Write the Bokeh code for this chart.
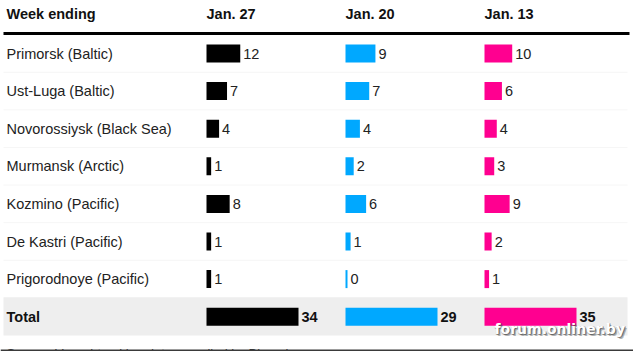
from bokeh.plotting import figure
from bokeh.models import Range1d
from bokeh.embed import file_html
from bokeh.resources import INLINE
from bokeh.core.properties import value

# ---- data ----
ports = ["Primorsk (Baltic)", "Ust-Luga (Baltic)", "Novorossiysk (Black Sea)",
         "Murmansk (Arctic)", "Kozmino (Pacific)", "De Kastri (Pacific)",
         "Prigorodnoye (Pacific)"]
weeks = ["Jan. 27", "Jan. 20", "Jan. 13"]
jan27 = [12, 7, 4, 1, 8, 1, 1]
jan20 = [9, 7, 4, 2, 6, 1, 0]
jan13 = [10, 6, 4, 3, 9, 2, 1]
totals = [34, 29, 35]
header_label = "Week ending"
total_label = "Total"
source_text = "Source: Vessel-tracking data compiled by Bloomberg"
watermark = "forum.onliner.by"

# ---- styles / layout ----
colors = ["#000000", "#00a8ff", "#ff0090"]
col_x0 = [206, 345, 484]
bar_max_px = 90
bar_min_px = 2
ROW_PX = 37.6
FONT = value("Liberation Sans")

W, H = 633, 351
p = figure(width=W, height=H, x_range=Range1d(0, W),
           y_range=Range1d((H - 53) / ROW_PX, -53 / ROW_PX),
           min_border=0, toolbar_location=None, output_backend="svg",
           x_axis_location=None, y_axis_location=None)
p.grid.visible = False
p.outline_line_color = None
p.background_fill_color = "white"
p.border_fill_color = "white"

n = len(ports)
total_row = n

# total row background
p.quad(left=3, right=627, bottom=total_row + 0.5, top=total_row - 0.52,
       fill_color="#eeeeee", line_color=None)

# faint row separators
for i in range(n - 1):
    p.segment(x0=3, x1=627, y0=i + 0.5, y1=i + 0.5, line_color="#f6f6f6", line_width=1)

# header rule
p.segment(x0=3, x1=629, y0=-0.53, y1=-0.53, line_color="#000000", line_width=3)

# header texts
p.text(x=[6], y=[(13 - 53) / ROW_PX], text=[header_label], text_font=FONT,
       text_font_size="14.5px", text_font_style="bold", text_baseline="middle",
       text_color="#111111")
p.text(x=col_x0, y=[(13 - 53) / ROW_PX] * 3, text=weeks, text_font=FONT,
       text_font_size="14.5px", text_font_style="bold", text_baseline="middle",
       text_color="#111111")

# row labels
p.text(x=[6] * n, y=list(range(n)), text=ports, text_font=FONT,
       text_font_size="14.5px", text_baseline="middle", text_color="#222222")
p.text(x=[6], y=[total_row], text=[total_label], text_font=FONT,
       text_font_size="14.5px", text_font_style="bold", text_baseline="middle",
       text_color="#111111")

series = [jan27, jan20, jan13]
bar_h = 18 / ROW_PX
for c, (vals, col, tot) in enumerate(zip(series, colors, totals)):
    allv = vals + [tot]
    cmax = max(allv)
    rights = [col_x0[c] + bar_min_px + v * bar_max_px / cmax for v in allv]
    ys = list(range(n + 1))
    p.hbar(y=ys, left=col_x0[c], right=rights, height=bar_h,
           fill_color=col, line_color=None)
    p.text(x=[r + 3 for r in rights[:-1]], y=ys[:-1], text=[str(v) for v in vals],
           text_font=FONT, text_font_size="14.5px", text_baseline="middle",
           text_color="#222222")
    p.text(x=[rights[-1] + 3], y=[total_row], text=[str(tot)], text_font=FONT,
           text_font_size="14.5px", text_font_style="bold", text_baseline="middle",
           text_color="#111111")

# clipped source line (cut off at the bottom edge, as in the reference)
p.text(x=[6], y=[(345 - 53) / ROW_PX], text=[source_text], text_font=FONT,
       text_font_size="13px", text_baseline="top", text_color="#333333")
# bottom dark strip
p.quad(left=0, right=W, bottom=(H + 2 - 53) / ROW_PX, top=(349 - 53) / ROW_PX,
       fill_color="#3a3a3a", line_color=None)

# watermark
wm_font = value("DejaVu Sans")
wm_y = (328 - 53) / ROW_PX
for dx, dy in [(1, 1), (2, 2), (0, 1), (1, 0)]:
    p.text(x=[494 + dx], y=[wm_y + dy / ROW_PX], text=[watermark], text_font=wm_font,
           text_font_size="14px", text_font_style="bold", text_baseline="middle",
           text_color="#333333", text_alpha=0.35)
p.text(x=[494], y=[wm_y], text=[watermark], text_font=wm_font,
       text_font_size="14px", text_font_style="bold", text_baseline="middle",
       text_color="#ffffff")

open("out.html", "w").write(file_html(p, INLINE))
